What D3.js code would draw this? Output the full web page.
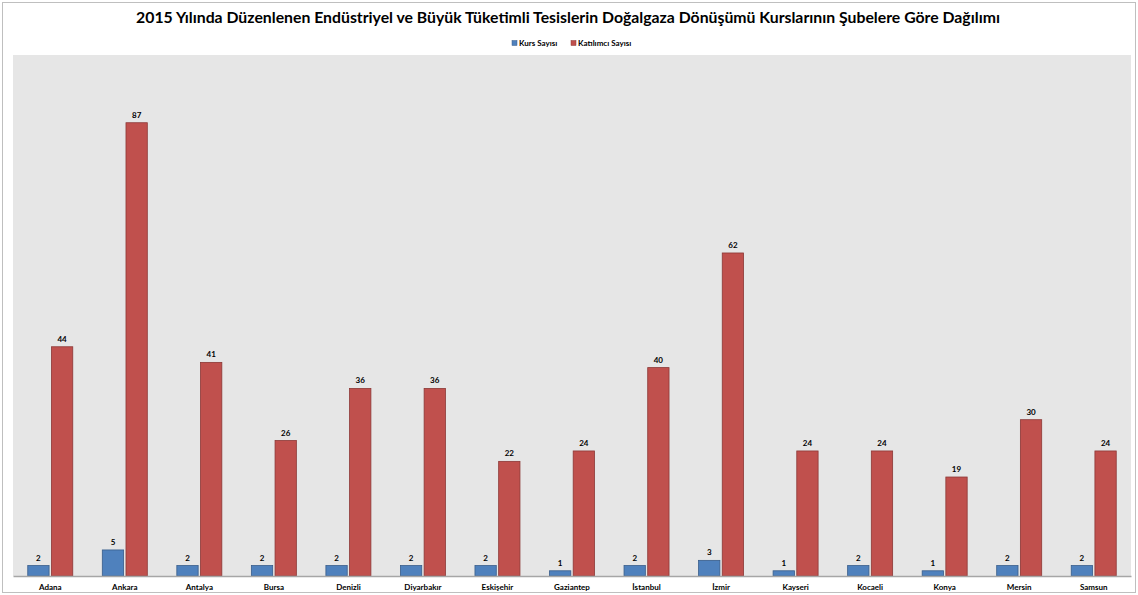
<!DOCTYPE html>
<html>
<head>
<meta charset="utf-8">
<script src="https://cdn.jsdelivr.net/npm/d3@7"></script>
<style>
  body { margin: 0; background: #fff; }
  text { font-family: Lato, "Open Sans", sans-serif; }
</style>
</head>
<body>
<svg id="chart" width="1138" height="595"></svg>
<script>
// categories and series
const subeler = ["Adana", "Ankara", "Antalya", "Bursa", "Denizli", "Diyarbakır", "Eskişehir",
  "Gaziantep", "İstanbul", "İzmir", "Kayseri", "Kocaeli", "Konya", "Mersin", "Samsun"];
const kursSayisi = [2, 5, 2, 2, 2, 2, 2, 1, 2, 3, 1, 2, 1, 2, 2];
const katilimciSayisi = [44, 87, 41, 26, 36, 36, 22, 24, 40, 62, 24, 24, 19, 30, 24];
const seriesNames = ["Kurs Sayısı", "Katılımcı Sayısı"];
const seriesColors = ["#4F81BD", "#C0504D"];
const seriesStroke = ["#385D8A", "#8C3836"];

const W = 1138, H = 595;
const plot = { left: 13, right: 1131, top: 55, bottom: 576 };

const svg = d3.select("#chart");

// outer border
svg.append("rect")
  .attr("x", 2.5).attr("y", 2.5)
  .attr("width", W - 5).attr("height", H - 5)
  .attr("fill", "#fff").attr("stroke", "#BFBFBF").attr("stroke-width", 1);

// title
svg.append("text")
  .attr("x", 568).attr("y", 23)
  .attr("text-anchor", "middle")
  .attr("font-size", 15.8).attr("font-weight", "bold").attr("fill", "#000")
  .text("2015 Yılında Düzenlenen Endüstriyel ve Büyük Tüketimli Tesislerin Doğalgaza Dönüşümü Kurslarının Şubelere Göre Dağılımı");

// legend
const legend = svg.append("g").attr("transform", "translate(512,46)");
const legX = [0, 59];
seriesNames.forEach((n, i) => {
  const g = legend.append("g").attr("transform", `translate(${legX[i]},0)`);
  g.append("rect").attr("x", 0).attr("y", -5.5).attr("width", 5).attr("height", 5)
    .attr("fill", seriesColors[i]).attr("stroke", seriesStroke[i]).attr("stroke-width", 0.5);
  g.append("text").attr("x", 7).attr("y", 0).attr("font-size", 8).attr("font-weight", "bold").text(n);
});

// plot background
svg.append("rect")
  .attr("x", plot.left).attr("y", plot.top)
  .attr("width", plot.right - plot.left).attr("height", plot.bottom - plot.top)
  .attr("fill", "#E6E6E6");

const x0 = d3.scaleBand().domain(subeler).range([plot.left, plot.right]).paddingInner(0).paddingOuter(0);
const x1 = d3.scaleBand().domain([0, 1]).range([-22.5, 22.5]).paddingInner(0.1);
const y = d3.scaleLinear().domain([0, 100]).range([plot.bottom, plot.top]);

const rows = subeler.map((s, i) => ({ s, vals: [kursSayisi[i], katilimciSayisi[i]] }));

const groups = svg.append("g").selectAll("g").data(rows).join("g")
  .attr("transform", d => `translate(${x0(d.s) + x0.bandwidth() / 2},0)`);

groups.selectAll("rect").data(d => d.vals.map((v, k) => ({ v, k }))).join("rect")
  .attr("x", d => x1(d.k))
  .attr("y", d => y(d.v))
  .attr("width", x1.bandwidth())
  .attr("height", d => y(0) - y(d.v))
  .attr("fill", d => seriesColors[d.k])
  .attr("stroke", d => seriesStroke[d.k])
  .attr("stroke-width", 0.8);

groups.selectAll("text.val").data(d => d.vals.map((v, k) => ({ v, k }))).join("text")
  .attr("class", "val")
  .attr("x", d => x1(d.k) + x1.bandwidth() / 2)
  .attr("y", d => y(d.v) - 5)
  .attr("text-anchor", "middle")
  .attr("font-size", 8).attr("font-weight", "bold")
  .text(d => d.v);

// x axis
const xAxis = svg.append("g")
  .attr("transform", `translate(0,${plot.bottom})`)
  .call(d3.axisBottom(x0).tickSize(0).tickPadding(8));
xAxis.select(".domain").attr("stroke", "#A6A6A6").attr("stroke-width", 1.5);
xAxis.selectAll("text").attr("font-size", 8).attr("font-weight", "bold").attr("fill", "#000")
  .attr("font-family", "Lato, 'Open Sans', sans-serif");
</script>
</body>
</html>
